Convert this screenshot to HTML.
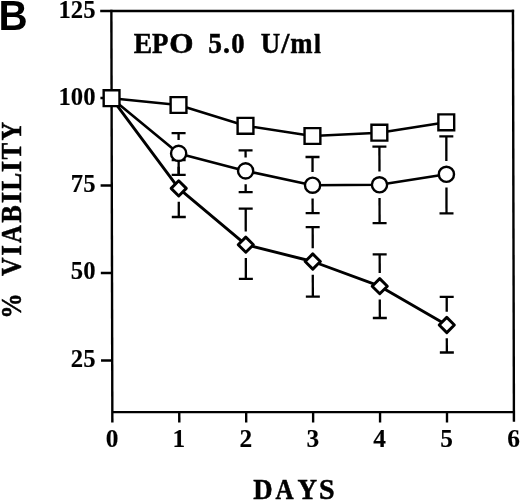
<!DOCTYPE html>
<html><head><meta charset="utf-8"><style>
html,body{margin:0;padding:0;background:#fff;}
body{width:520px;height:501px;overflow:hidden;font-family:"Liberation Serif",serif;}
svg{display:block;will-change:transform;}
</style></head><body>
<svg width="520" height="501" viewBox="0 0 520 501">
<g transform="matrix(1 0 0.0024 1 -0.0264 0)">
<g stroke="#000" stroke-linecap="butt" fill="none">
<line x1="100.20" y1="11.00" x2="514.15" y2="11.00" stroke-width="2.4"/>
<line x1="111.37" y1="9.80" x2="111.37" y2="422.60" stroke-width="2.4"/>
<line x1="512.95" y1="9.80" x2="512.95" y2="421.80" stroke-width="2.4"/>
<line x1="111.37" y1="412.10" x2="512.95" y2="412.10" stroke-width="2.4"/>
<line x1="100.20" y1="98.00" x2="111.37" y2="98.00" stroke-width="2.4"/>
<line x1="100.20" y1="185.50" x2="111.37" y2="185.50" stroke-width="2.4"/>
<line x1="100.20" y1="273.00" x2="111.37" y2="273.00" stroke-width="2.4"/>
<line x1="100.20" y1="360.50" x2="111.37" y2="360.50" stroke-width="2.4"/>
<line x1="178.30" y1="412.10" x2="178.30" y2="422.60" stroke-width="2.4"/>
<line x1="245.23" y1="412.10" x2="245.23" y2="422.60" stroke-width="2.4"/>
<line x1="312.16" y1="412.10" x2="312.16" y2="422.60" stroke-width="2.4"/>
<line x1="379.09" y1="412.10" x2="379.09" y2="422.60" stroke-width="2.4"/>
<line x1="446.02" y1="412.10" x2="446.02" y2="422.60" stroke-width="2.4"/>
</g>
<g stroke="#000" fill="none">
<line x1="178.30" y1="133.10" x2="178.30" y2="140.10" stroke-width="2.3"/>
<line x1="178.30" y1="166.70" x2="178.30" y2="174.80" stroke-width="2.3"/>
<line x1="171.30" y1="133.10" x2="185.30" y2="133.10" stroke-width="2.3"/>
<line x1="171.30" y1="174.80" x2="185.30" y2="174.80" stroke-width="2.3"/>
<line x1="245.23" y1="150.30" x2="245.23" y2="157.60" stroke-width="2.3"/>
<line x1="245.23" y1="184.20" x2="245.23" y2="192.10" stroke-width="2.3"/>
<line x1="238.23" y1="150.30" x2="252.23" y2="150.30" stroke-width="2.3"/>
<line x1="238.23" y1="192.10" x2="252.23" y2="192.10" stroke-width="2.3"/>
<line x1="312.16" y1="157.00" x2="312.16" y2="171.90" stroke-width="2.3"/>
<line x1="312.16" y1="198.50" x2="312.16" y2="213.20" stroke-width="2.3"/>
<line x1="305.16" y1="157.00" x2="319.16" y2="157.00" stroke-width="2.3"/>
<line x1="305.16" y1="213.20" x2="319.16" y2="213.20" stroke-width="2.3"/>
<line x1="379.09" y1="146.70" x2="379.09" y2="171.50" stroke-width="2.3"/>
<line x1="379.09" y1="198.10" x2="379.09" y2="223.20" stroke-width="2.3"/>
<line x1="372.09" y1="146.70" x2="386.09" y2="146.70" stroke-width="2.3"/>
<line x1="372.09" y1="223.20" x2="386.09" y2="223.20" stroke-width="2.3"/>
<line x1="446.02" y1="136.30" x2="446.02" y2="161.00" stroke-width="2.3"/>
<line x1="446.02" y1="187.60" x2="446.02" y2="213.30" stroke-width="2.3"/>
<line x1="439.02" y1="136.30" x2="453.02" y2="136.30" stroke-width="2.3"/>
<line x1="439.02" y1="213.30" x2="453.02" y2="213.30" stroke-width="2.3"/>
<line x1="178.30" y1="160.00" x2="178.30" y2="175.10" stroke-width="2.3"/>
<line x1="178.30" y1="201.70" x2="178.30" y2="217.00" stroke-width="2.3"/>
<line x1="171.30" y1="160.00" x2="185.30" y2="160.00" stroke-width="2.3"/>
<line x1="171.30" y1="217.00" x2="185.30" y2="217.00" stroke-width="2.3"/>
<line x1="245.23" y1="208.60" x2="245.23" y2="231.40" stroke-width="2.3"/>
<line x1="245.23" y1="258.00" x2="245.23" y2="278.90" stroke-width="2.3"/>
<line x1="238.23" y1="208.60" x2="252.23" y2="208.60" stroke-width="2.3"/>
<line x1="238.23" y1="278.90" x2="252.23" y2="278.90" stroke-width="2.3"/>
<line x1="312.16" y1="227.20" x2="312.16" y2="248.20" stroke-width="2.3"/>
<line x1="312.16" y1="274.80" x2="312.16" y2="296.60" stroke-width="2.3"/>
<line x1="305.16" y1="227.20" x2="319.16" y2="227.20" stroke-width="2.3"/>
<line x1="305.16" y1="296.60" x2="319.16" y2="296.60" stroke-width="2.3"/>
<line x1="379.09" y1="254.30" x2="379.09" y2="272.90" stroke-width="2.3"/>
<line x1="379.09" y1="299.50" x2="379.09" y2="318.00" stroke-width="2.3"/>
<line x1="372.09" y1="254.30" x2="386.09" y2="254.30" stroke-width="2.3"/>
<line x1="372.09" y1="318.00" x2="386.09" y2="318.00" stroke-width="2.3"/>
<line x1="446.02" y1="296.80" x2="446.02" y2="311.70" stroke-width="2.3"/>
<line x1="446.02" y1="338.30" x2="446.02" y2="352.50" stroke-width="2.3"/>
<line x1="439.02" y1="296.80" x2="453.02" y2="296.80" stroke-width="2.3"/>
<line x1="439.02" y1="352.50" x2="453.02" y2="352.50" stroke-width="2.3"/>
</g>
<g stroke="#000" fill="none" stroke-linejoin="round">
<polyline points="111.37,98.20 178.30,105.00 245.23,125.80 312.16,136.00 379.09,132.70 446.02,122.30" stroke-width="2.5"/>
<polyline points="111.37,98.20 178.30,153.40 245.23,170.90 312.16,185.20 379.09,184.80 446.02,174.30" stroke-width="2.6"/>
<polyline points="111.37,98.20 178.30,188.40 245.23,244.70 312.16,261.50 379.09,286.20 446.02,325.00" stroke-width="2.9"/>
</g>
<g stroke="#000" fill="#fff" stroke-width="2.4">
<circle cx="178.30" cy="153.40" r="7.6"/>
<circle cx="245.23" cy="170.90" r="7.6"/>
<circle cx="312.16" cy="185.20" r="7.6"/>
<circle cx="379.09" cy="184.80" r="7.6"/>
<circle cx="446.02" cy="174.30" r="7.6"/>
<path d="M178.30 180.80L185.90 188.40L178.30 196.00L170.70 188.40Z" stroke-width="2.9" stroke-linejoin="round"/>
<path d="M245.23 237.10L252.83 244.70L245.23 252.30L237.63 244.70Z" stroke-width="2.9" stroke-linejoin="round"/>
<path d="M312.16 253.90L319.76 261.50L312.16 269.10L304.56 261.50Z" stroke-width="2.9" stroke-linejoin="round"/>
<path d="M379.09 278.60L386.69 286.20L379.09 293.80L371.49 286.20Z" stroke-width="2.9" stroke-linejoin="round"/>
<path d="M446.02 317.40L453.62 325.00L446.02 332.60L438.42 325.00Z" stroke-width="2.9" stroke-linejoin="round"/>
<rect x="103.47" y="90.30" width="15.8" height="15.8"/>
<rect x="170.40" y="97.10" width="15.8" height="15.8"/>
<rect x="237.33" y="117.90" width="15.8" height="15.8"/>
<rect x="304.26" y="128.10" width="15.8" height="15.8"/>
<rect x="371.19" y="124.80" width="15.8" height="15.8"/>
<rect x="438.12" y="114.40" width="15.8" height="15.8"/>
</g>
</g>
<text transform="translate(95.50,17.60) scale(0.95,1.0)" font-family="Liberation Serif, serif" font-weight="bold" stroke="#000" stroke-width="0.15" font-size="26.0" text-anchor="end" xml:space="preserve" >125</text>
<text transform="translate(95.50,104.70) scale(0.95,1.0)" font-family="Liberation Serif, serif" font-weight="bold" stroke="#000" stroke-width="0.15" font-size="26.0" text-anchor="end" xml:space="preserve" >100</text>
<text transform="translate(95.50,191.80) scale(0.95,1.0)" font-family="Liberation Serif, serif" font-weight="bold" stroke="#000" stroke-width="0.15" font-size="26.0" text-anchor="end" xml:space="preserve" >75</text>
<text transform="translate(95.50,279.30) scale(0.95,1.0)" font-family="Liberation Serif, serif" font-weight="bold" stroke="#000" stroke-width="0.15" font-size="26.0" text-anchor="end" xml:space="preserve" >50</text>
<text transform="translate(95.50,366.80) scale(0.95,1.0)" font-family="Liberation Serif, serif" font-weight="bold" stroke="#000" stroke-width="0.15" font-size="26.0" text-anchor="end" xml:space="preserve" >25</text>
<text transform="translate(111.97,446.50) scale(0.975,1.0)" font-family="Liberation Serif, serif" font-weight="bold" stroke="#000" stroke-width="0.15" font-size="26.0" text-anchor="middle" xml:space="preserve" >0</text>
<text transform="translate(178.90,446.50) scale(0.975,1.0)" font-family="Liberation Serif, serif" font-weight="bold" stroke="#000" stroke-width="0.15" font-size="26.0" text-anchor="middle" xml:space="preserve" >1</text>
<text transform="translate(245.83,446.50) scale(0.975,1.0)" font-family="Liberation Serif, serif" font-weight="bold" stroke="#000" stroke-width="0.15" font-size="26.0" text-anchor="middle" xml:space="preserve" >2</text>
<text transform="translate(312.76,446.50) scale(0.975,1.0)" font-family="Liberation Serif, serif" font-weight="bold" stroke="#000" stroke-width="0.15" font-size="26.0" text-anchor="middle" xml:space="preserve" >3</text>
<text transform="translate(379.69,446.50) scale(0.975,1.0)" font-family="Liberation Serif, serif" font-weight="bold" stroke="#000" stroke-width="0.15" font-size="26.0" text-anchor="middle" xml:space="preserve" >4</text>
<text transform="translate(446.62,446.50) scale(0.975,1.0)" font-family="Liberation Serif, serif" font-weight="bold" stroke="#000" stroke-width="0.15" font-size="26.0" text-anchor="middle" xml:space="preserve" >5</text>
<text transform="translate(513.55,446.50) scale(0.975,1.0)" font-family="Liberation Serif, serif" font-weight="bold" stroke="#000" stroke-width="0.15" font-size="26.0" text-anchor="middle" xml:space="preserve" >6</text>
<text transform="translate(133.63,52.60) scale(0.967,1.0)" font-family="Liberation Serif, serif" font-weight="bold" stroke="#000" stroke-width="0.5" font-size="28.5" text-anchor="start" xml:space="preserve" >E</text>
<text transform="translate(152.04,52.60) scale(0.943,1.0)" font-family="Liberation Serif, serif" font-weight="bold" stroke="#000" stroke-width="0.5" font-size="28.5" text-anchor="start" xml:space="preserve" >P</text>
<text transform="translate(169.18,52.60) scale(1.094,1.0)" font-family="Liberation Serif, serif" font-weight="bold" stroke="#000" stroke-width="0.5" font-size="28.5" text-anchor="start" xml:space="preserve" >O</text>
<text transform="translate(208.30,52.60) scale(0.961,1.0)" font-family="Liberation Serif, serif" font-weight="bold" stroke="#000" stroke-width="0.5" font-size="28.5" text-anchor="start" xml:space="preserve" >5</text>
<text transform="translate(222.98,52.60) scale(0.974,1.0)" font-family="Liberation Serif, serif" font-weight="bold" stroke="#000" stroke-width="0.5" font-size="28.5" text-anchor="start" xml:space="preserve" >.</text>
<text transform="translate(231.18,52.60) scale(0.936,1.0)" font-family="Liberation Serif, serif" font-weight="bold" stroke="#000" stroke-width="0.5" font-size="28.5" text-anchor="start" xml:space="preserve" >0</text>
<text transform="translate(260.73,52.60) scale(0.945,1.0)" font-family="Liberation Serif, serif" font-weight="bold" stroke="#000" stroke-width="0.5" font-size="28.5" text-anchor="start" xml:space="preserve" >U</text>
<text transform="translate(281.29,52.60) scale(1.025,1.0)" font-family="Liberation Serif, serif" font-weight="bold" stroke="#000" stroke-width="0.5" font-size="28.5" text-anchor="start" xml:space="preserve" >/</text>
<text transform="translate(290.18,52.60) scale(0.938,1.0)" font-family="Liberation Serif, serif" font-weight="bold" stroke="#000" stroke-width="0.5" font-size="28.5" text-anchor="start" xml:space="preserve" >m</text>
<text transform="translate(313.91,52.60) scale(0.873,0.95)" font-family="Liberation Serif, serif" font-weight="bold" stroke="#000" stroke-width="0.5" font-size="28.5" text-anchor="start" xml:space="preserve" >l</text>
<text transform="translate(253.23,499.30) scale(0.942,1.0)" font-family="Liberation Serif, serif" font-weight="bold" stroke="#000" stroke-width="0.5" font-size="28.5" text-anchor="start" xml:space="preserve" >D</text>
<text transform="translate(275.55,499.30) scale(0.881,1.0)" font-family="Liberation Serif, serif" font-weight="bold" stroke="#000" stroke-width="0.5" font-size="28.5" text-anchor="start" xml:space="preserve" >A</text>
<text transform="translate(297.52,499.30) scale(0.952,1.0)" font-family="Liberation Serif, serif" font-weight="bold" stroke="#000" stroke-width="0.5" font-size="28.5" text-anchor="start" xml:space="preserve" >Y</text>
<text transform="translate(319.11,499.30) scale(0.983,1.0)" font-family="Liberation Serif, serif" font-weight="bold" stroke="#000" stroke-width="0.5" font-size="28.5" text-anchor="start" xml:space="preserve" >S</text>
<text transform="translate(21.20,318.70) rotate(-90) scale(0.891,1.0)" font-family="Liberation Serif, serif" font-weight="bold" stroke="#000" stroke-width="0.5" font-size="28.5" text-anchor="start" xml:space="preserve" >%</text>
<text transform="translate(21.20,275.99) rotate(-90) scale(0.898,1.0)" font-family="Liberation Serif, serif" font-weight="bold" stroke="#000" stroke-width="0.5" font-size="28.5" text-anchor="start" xml:space="preserve" >V</text>
<text transform="translate(21.20,255.63) rotate(-90) scale(0.97,1.0)" font-family="Liberation Serif, serif" font-weight="bold" stroke="#000" stroke-width="0.5" font-size="28.5" text-anchor="start" xml:space="preserve" >I</text>
<text transform="translate(21.20,242.94) rotate(-90) scale(0.866,1.0)" font-family="Liberation Serif, serif" font-weight="bold" stroke="#000" stroke-width="0.5" font-size="28.5" text-anchor="start" xml:space="preserve" >A</text>
<text transform="translate(21.20,222.64) rotate(-90) scale(0.924,1.0)" font-family="Liberation Serif, serif" font-weight="bold" stroke="#000" stroke-width="0.5" font-size="28.5" text-anchor="start" xml:space="preserve" >B</text>
<text transform="translate(21.20,203.18) rotate(-90) scale(1.025,1.0)" font-family="Liberation Serif, serif" font-weight="bold" stroke="#000" stroke-width="0.5" font-size="28.5" text-anchor="start" xml:space="preserve" >I</text>
<text transform="translate(21.20,190.66) rotate(-90) scale(0.947,1.0)" font-family="Liberation Serif, serif" font-weight="bold" stroke="#000" stroke-width="0.5" font-size="28.5" text-anchor="start" xml:space="preserve" >L</text>
<text transform="translate(21.20,172.18) rotate(-90) scale(1.025,1.0)" font-family="Liberation Serif, serif" font-weight="bold" stroke="#000" stroke-width="0.5" font-size="28.5" text-anchor="start" xml:space="preserve" >I</text>
<text transform="translate(21.20,159.59) rotate(-90) scale(0.871,1.0)" font-family="Liberation Serif, serif" font-weight="bold" stroke="#000" stroke-width="0.5" font-size="28.5" text-anchor="start" xml:space="preserve" >T</text>
<text transform="translate(21.20,140.45) rotate(-90) scale(0.906,1.0)" font-family="Liberation Serif, serif" font-weight="bold" stroke="#000" stroke-width="0.5" font-size="28.5" text-anchor="start" xml:space="preserve" >Y</text>
<text transform="translate(-1.4,30.1) scale(0.97,1)" font-family="Liberation Sans, sans-serif" font-weight="bold" font-size="41.6">B</text>
</svg>
</body></html>
